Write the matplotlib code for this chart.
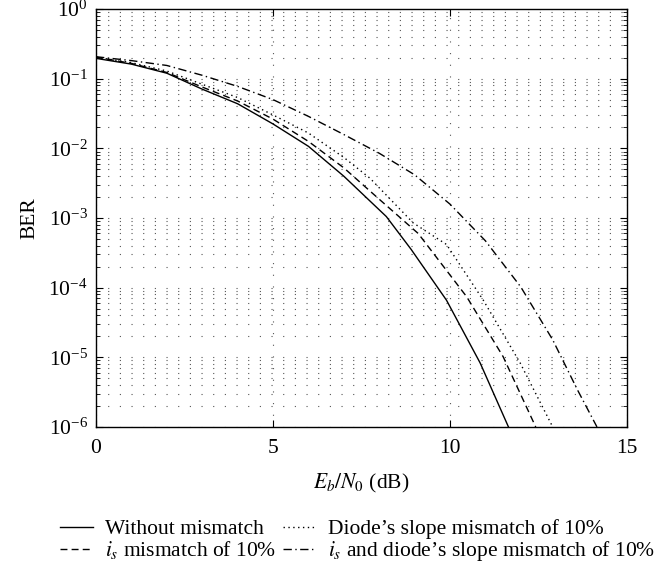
import numpy as np
import matplotlib.pyplot as plt
from matplotlib.ticker import LogLocator, NullFormatter, FixedLocator

plt.rcParams['font.family'] = ['Liberation Serif', 'DejaVu Serif']
plt.rcParams['mathtext.fontset'] = 'stix'

# Eb/N0 (dB) and BER
snr_ideal = [0, 1, 2, 3, 4, 5, 6, 7, 8.2, 8.9, 9.9, 10.85, 11.65]
ber_ideal = [0.196, 0.162, 0.120, 0.0708, 0.0437, 0.0224, 0.0107, 0.00398,
             1.05e-3, 3.55e-4, 6.6e-5, 8.3e-6, 1e-6]

snr_is = [0, 1, 2, 3, 4, 5, 6, 7, 8, 9.1, 10.47, 11.5, 12.42]
ber_is = [0.204, 0.166, 0.123, 0.0759, 0.0479, 0.0263, 0.0126, 0.00525,
          0.00186, 6.0e-4, 7.4e-5, 1.02e-5, 1e-6]

snr_slope = [0, 1, 2, 3, 4, 5, 6, 7, 7.74, 8.96, 9.9, 10.94, 11.98, 12.9]
ber_slope = [0.204, 0.170, 0.129, 0.0832, 0.0537, 0.0302, 0.0166, 0.00741,
             0.00372, 8.5e-4, 4.17e-4, 6.6e-5, 8.3e-6, 1e-6]

snr_both = [0, 1, 2, 3, 4, 5, 6, 7, 8, 9, 10, 11, 12, 12.9, 13.6, 14.15]
ber_both = [0.207, 0.182, 0.155, 0.112, 0.0776, 0.0501, 0.0288, 0.0158,
            0.00851, 0.00417, 0.00158, 4.7e-4, 1.02e-4, 1.78e-5, 3.4e-6, 1e-6]

labels = ["Without mismatch",
          "$i_s$ mismatch of 10%",
          "Diode\u2019s slope mismatch of 10%",
          "$i_s$ and diode\u2019s slope mismatch of 10%"]

fs = 15.5

fig = plt.figure(figsize=(6.63, 5.67), dpi=100)
ax = fig.add_axes([0.1448, 0.247, 0.801, 0.737])

lw = 1.0
ax.semilogy(snr_ideal, ber_ideal, color='k', lw=lw, ls='-', label=labels[0])
ax.semilogy(snr_is, ber_is, color='k', lw=lw, ls=(0, (5, 3)), label=labels[1])
ax.semilogy(snr_slope, ber_slope, color='k', lw=lw, ls=(0, (1, 2.5)), label=labels[2])
ax.semilogy(snr_both, ber_both, color='k', lw=lw, ls=(0, (6, 2.5, 1, 2.5)), label=labels[3])

ax.set_xlim(0, 15)
ax.set_ylim(1e-6, 1)
ax.xaxis.set_major_locator(FixedLocator([0, 5, 10, 15]))
ax.yaxis.set_major_locator(LogLocator(base=10, numticks=10))
ax.yaxis.set_minor_locator(LogLocator(base=10, subs=np.arange(2, 10), numticks=20))
ax.yaxis.set_minor_formatter(NullFormatter())

grid_ls = (0, (1, 9.5))
ax.grid(True, which='major', axis='both', color='#555555', lw=0.8, ls=grid_ls)
ax.grid(True, which='minor', axis='y', color='#555555', lw=0.8, ls=grid_ls)

ax.tick_params(which='both', direction='in', top=True, right=True, labelsize=fs)
ax.tick_params(which='major', length=5, width=0.8, pad=6)
ax.tick_params(which='minor', length=3, width=0.6)
ax.tick_params(axis='x', which='major', pad=9)
for s in ax.spines.values():
    s.set_linewidth(1.0)

ax.set_xlabel("$E_b/N_0$ (dB)", fontsize=fs, labelpad=10)
ax.set_ylabel("BER", fontsize=fs, labelpad=6)

fig.legend(loc='lower center', bbox_to_anchor=(0.539, -0.012), ncol=2, frameon=False,
           fontsize=fs, handlelength=1.55, handletextpad=0.55, columnspacing=0.3,
           labelspacing=0.0, borderaxespad=0.1)

fig.savefig("out.png", dpi=100)
